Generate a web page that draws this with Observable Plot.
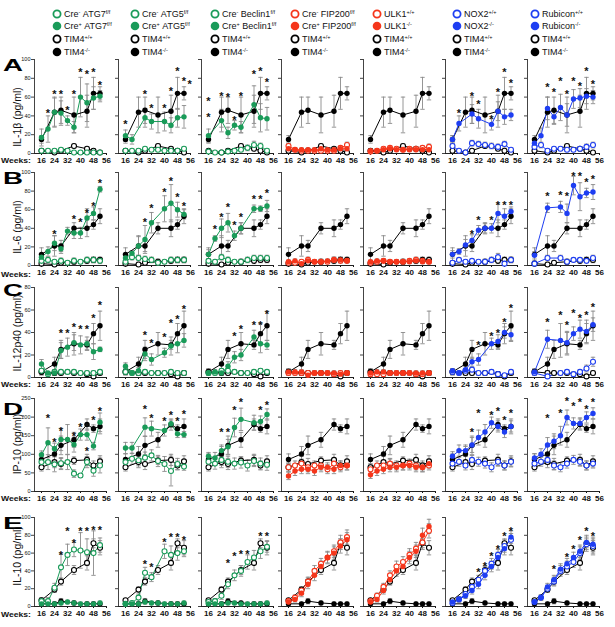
<!DOCTYPE html>
<html><head><meta charset="utf-8">
<script src="https://cdn.jsdelivr.net/npm/d3@7"></script>
<script src="https://cdn.jsdelivr.net/npm/@observablehq/plot@0.6"></script>
<style>
body{margin:0;background:#fff;font-family:"Liberation Sans",Arial,sans-serif;}
#fig{position:relative;width:615px;height:627px;overflow:hidden;background:#fff;}
</style></head><body><div id="fig"></div>
<script>
// ---------- categories ----------
const weeks = [16,20,24,28,32,36,40,44,48,52];
const tim4Weeks = [16,24,28,36,44,48,52];
const xTicks = [16,24,32,40,48,56];
const genes = ["ATG7","ATG5","Beclin1","FIP200","ULK1","NOX2","Rubicon"];
const creLine = [true,true,true,true,false,false,false];
const geneColors = ["#1a9b59","#1a9b59","#1a9b59","#f5361b","#f5361b","#1e3ef2","#1e3ef2"];
const rowLetters = ["A","B","C","D","E"];
const rowTitles = ["IL-1β (pg/ml)","IL-6 (pg/ml)","IL-12p40 (pg/ml)","IP-10 (pg/ml)","IL-10 (pg/ml)"];
const rowYMax = [100,100,80,250,100];
const rowYStep = [20,20,20,50,20];

// ---------- IL-1β ----------
const il1b_tim4wt = [3,1,3,8,5,3,1];
const il1b_tim4wt_sd = [1,1,2,2,2,2,1];
const il1b_tim4ko = [15,44,46,41,45,64,64];
const il1b_tim4ko_sd = [4,16,14,19,17,17,7];
const il1b_ko = [
 [17,26,44,43,35,28,60,54,59,61],
 [19,15,null,38,34,null,34,30,38,39],
 [19,null,35,22,30,28,null,52,38,37],
 [5,4,4,4,4,5,4,4,5,5],
 [3,3,4,5,4,4,4,4,4,4],
 [15,32,null,42,37,null,31,45,39,41],
 [11,19,48,39,49,41,58,59,61,60]];
const il1b_ko_sd = [
 [9,14,15,13,5,6,21,20,12,6],
 [6,5,null,10,8,null,10,8,10,12],
 [7,null,12,6,5,6,null,20,15,12],
 [3,2,2,2,2,2,2,2,2,2],
 [2,2,2,2,2,2,2,2,2,2],
 [4,8,null,10,10,null,6,10,8,6],
 [4,8,12,8,14,12,10,10,8,7]];
const il1b_ctrl = [
 [3,3,3,4,3,1,1,1,1,1],
 [3,3,3,5,4,4,3,3,3,5],
 [2,1,1,2,3,4,6,9,8,3],
 [8,4,3,3,3,3,3,3,6,9],
 [2,3,5,6,5,4,5,5,6,7],
 [8,3,1,11,10,9,8,7,10,4],
 [7,9,3,5,5,4,4,5,7,9]];
const il1b_ctrl_sd = [
 [2,2,2,2,2,1,1,1,1,1],
 [2,2,2,2,2,2,2,2,2,2],
 [1,1,1,2,2,2,3,4,3,2],
 [3,2,2,2,2,2,2,2,2,3],
 [1,2,2,2,2,2,2,2,2,3],
 [3,2,1,3,3,3,3,3,3,2],
 [3,3,2,2,2,2,2,2,3,3]];
const il1b_stars = [
 [[20,46],[24,66],[28,66],[32,49],[36,66],[40,89],[44,87],[48,89],[52,76]],
 [[16,34],[28,66],[32,51],[40,51],[44,69],[48,90],[52,80],[55.5,77]],
 [[16,59],[16,41],[24,64],[28,63],[32,38],[36,64],[44,87],[48,90],[52,79]],
 [],[],
 [[20,46],[28,64],[32,55],[40,39],[44,68],[48,89],[52,78]],
 [[24,73],[28,68],[32,80],[36,66],[40,80],[44,74],[48,90],[52,77]]];

// ---------- IL-6 ----------
const il6_tim4wt = [2,1,3,4,5,6,6];
const il6_tim4wt_sd = [2,1,2,3,3,3,3];
const il6_tim4ko = [12,21,21,40,40,44,53];
const il6_tim4ko_sd = [7,11,6,6,9,5,8];
const il6_ko = [
 [9,15,24,18,37,35,35,51,56,82],
 [8,13,21,28,46,null,61,67,60,55],
 [12,29,40,46,32,40,null,61,61,64],
 [4,5,2,5,4,4,5,6,6,5],
 [4,5,5,4,4,4,4,5,4,4],
 [12,15,22,27,38,40,40,56,53,58],
 [11,null,62,null,63,56,86,74,78,79]];
const il6_ko_sd = [
 [4,5,8,5,4,6,6,10,7,3],
 [4,3,10,15,11,null,14,20,8,5],
 [5,3,10,10,5,6,null,4,3,6],
 [2,2,1,2,2,2,2,3,3,2],
 [2,2,2,2,2,2,2,2,2,2],
 [4,3,6,6,5,5,5,10,8,5],
 [4,null,5,null,6,10,10,15,5,8]];
const il6_ctrl = [
 [5,6,4,5,3,5,4,6,6,5],
 [4,9,8,7,6,3,4,6,6,6],
 [5,4,9,6,4,4,6,8,8,8],
 [3,3,4,6,4,4,4,6,5,5],
 [3,4,5,4,4,4,5,6,5,4],
 [3,6,4,5,4,4,6,9,2,6],
 [2,null,8,null,8,4,6,6,5,8]];
const il6_ctrl_sd = [
 [3,3,2,3,2,3,2,3,3,3],
 [2,3,3,3,3,2,2,3,3,3],
 [2,2,3,3,2,2,3,3,3,3],
 [2,2,2,3,2,2,2,3,2,2],
 [2,2,2,2,2,2,2,3,2,2],
 [2,2,2,2,2,2,3,4,1,3],
 [1,null,3,null,3,2,2,2,2,3]];
const il6_stars = [
 [[24,37],[36,53],[40,50],[44,59],[48,67],[52,91]],
 [[28,49],[32,65],[40,82],[44,94],[48,76],[52,67]],
 [[20,42],[24,55],[28,66],[32,46],[36,55],[44,74],[48,74],[52,81]],
 [],[],
 [[28,37],[32,52],[40,52],[44,68],[48,68],[52,68]],
 [[24,77],[32,79],[36,77],[40,99],[44,99],[48,92],[52,96]]];

// ---------- IL-12p40 ----------
const il12_tim4wt = [5,4,4,4,3,1,4];
const il12_tim4wt_sd = [2,2,2,2,2,1,2];
const il12_tim4ko = [5,12,25,30,29,39,46];
const il12_tim4ko_sd = [3,6,8,10,4,9,13];
const il12_ko = [
 [12,4,4,24,27,31,29,30,23,25],
 [10,4,6,21,16,null,22,28,30,33],
 [4,5,4,10,18,20,null,36,30,29],
 [5,5,5,2,4,4,4,4,3,4],
 [4,5,5,4,4,4,4,4,4,4],
 [6,4,7,14,16,null,30,32,40,38],
 [5,null,34,null,33,31,39,43,41,47]];
const il12_ko_sd = [
 [4,1,2,7,8,7,8,6,7,2],
 [3,2,3,6,5,null,4,8,8,6],
 [2,2,2,4,5,5,null,6,8,4],
 [2,2,2,1,2,2,2,2,2,2],
 [2,2,2,2,2,2,2,2,2,2],
 [2,1,3,4,5,null,5,6,5,6],
 [2,null,8,null,15,10,6,8,10,6]];
const il12_ctrl = [
 [6,3,5,5,5,5,4,4,4,5],
 [5,4,4,5,4,4,4,5,4,4],
 [4,4,6,6,5,4,4,5,6,5],
 [4,4,4,4,4,4,4,3,4,4],
 [3,3,3,4,4,4,4,3,3,4],
 [5,4,6,7,4,4,5,3,2,5],
 [4,null,1,null,4,5,3,5,8,14]];
const il12_ctrl_sd = [
 [2,1,2,2,2,2,2,2,2,2],
 [2,2,2,2,2,2,2,2,2,2],
 [2,2,2,2,2,2,2,2,2,2],
 [2,2,2,2,2,2,2,2,2,2],
 [2,2,2,2,2,2,2,2,2,2],
 [2,2,2,2,2,2,2,2,1,2],
 [2,null,1,null,2,2,2,2,3,4]];
const il12_stars = [
 [[28,42],[32,42],[36,47],[40,45],[44,45],[48,55],[52,67]],
 [[28,40],[32,33],[40,38],[44,51],[48,54],[52,63]],
 [[32,39],[36,45],[44,49],[48,49],[52,59]],
 [],[],
 [[32,31],[40,39],[44,42],[48,52],[52,64]],
 [[24,52],[32,58],[36,49],[40,60],[44,55],[48,58],[52,65]]];

// ---------- IP-10 ----------
const ip10_tim4wt = [65,79,74,83,85,70,81];
const ip10_tim4wt_sd = [10,15,15,10,15,12,15];
const ip10_tim4ko = [86,101,124,139,180,169,175];
const ip10_tim4ko_sd = [15,20,25,20,15,10,20];
const ip10_ko = [
 [99,131,115,140,140,126,153,153,122,186],
 [117,117,null,173,169,null,164,182,155,153],
 [95,90,110,120,172,194,null,185,188,207],
 [42,55,60,60,55,65,65,60,70,70],
 [45,55,60,65,65,70,70,65,65,75],
 [95,110,110,125,145,160,185,175,160,175],
 [90,100,125,135,150,199,183,183,199,210]];
const ip10_ko_sd = [
 [10,40,15,30,40,20,15,15,10,25],
 [15,15,null,25,20,null,15,10,10,8],
 [10,15,15,20,25,30,null,20,15,15],
 [10,12,12,12,12,12,12,12,12,12],
 [10,12,12,12,12,12,12,12,12,12],
 [12,15,15,20,20,20,15,15,15,15],
 [12,15,20,20,25,20,15,15,15,15]];
const ip10_ctrl = [
 [79,79,73,76,79,48,43,79,56,70],
 [79,88,84,91,97,82,74,55,74,67],
 [80,75,85,80,75,78,70,82,75,72],
 [65,70,75,65,70,70,60,75,65,70],
 [60,70,70,75,70,70,75,70,65,70],
 [75,80,70,85,80,75,65,80,70,80],
 [75,80,85,70,65,75,85,80,70,75]];
const ip10_ctrl_sd = [
 [15,20,20,15,20,10,5,15,15,20],
 [10,15,15,15,15,15,20,40,15,10],
 [15,15,15,15,15,15,15,15,15,15],
 [12,12,12,12,12,12,12,12,12,12],
 [12,12,12,12,12,12,12,12,12,12],
 [12,12,12,12,12,12,12,12,12,12],
 [12,12,12,12,12,12,12,12,12,12]];
const ip10_stars = [
 [[20,204],[24,140],[28,169],[36,156],[40,180],[44,116],[44,180],[48,199],[52,223]],
 [[28,228],[32,204],[40,196],[44,212],[48,196],[52,215]],
 [[24,167],[28,167],[32,226],[36,247],[48,226],[52,239]],
 [],[],
 [[28,167],[32,218],[40,212],[44,223],[48,199],[52,218]],
 [[24,204],[32,218],[36,250],[40,237],[44,247],[48,228],[52,247]]];

// ---------- IL-10 ----------
const il10_tim4wt = [7,19,28,41,49,71,66];
const il10_tim4wt_sd = [2,3,4,5,8,5,8];
const il10_tim4ko = [3,3,6,4,3,3,3];
const il10_tim4ko_sd = [2,2,3,2,2,2,2];
const il10_ko = [
 [3,3,3,4,5,4,3,3,3,4],
 [3,3,3,5,4,4,3,3,3,4],
 [3,3,3,4,4,3,3,3,3,4],
 [5,8,15,25,35,45,55,60,68,75],
 [5,8,18,30,40,45,55,62,80,90],
 [5,8,12,18,25,35,45,55,65,78],
 [5,10,22,30,42,48,55,62,72,70]];
const il10_ko_sd = [
 [2,2,2,2,2,2,2,2,2,2],
 [2,2,2,2,2,2,2,2,2,2],
 [2,2,2,2,2,2,2,2,2,2],
 [2,3,4,5,6,6,6,7,8,8],
 [2,3,4,5,6,6,7,7,8,8],
 [2,3,3,4,5,5,6,6,7,7],
 [2,3,4,5,6,6,6,7,8,8]];
const il10_ctrl = [
 [6,6,21,44,58,64,63,61,60,69],
 [3,4,10,38,33,null,62,58,60,62],
 [5,6,12,25,35,40,50,55,62,67],
 [6,10,18,28,40,48,55,62,72,78],
 [6,12,22,35,45,50,58,65,72,85],
 [4,8,14,22,30,40,48,58,68,75],
 [5,10,20,28,40,45,50,60,70,68]];
const il10_ctrl_sd = [
 [4,4,5,15,12,8,20,15,25,8],
 [2,2,4,6,5,null,8,10,8,6],
 [2,3,4,5,6,6,8,8,8,6],
 [2,3,4,5,6,6,7,7,8,8],
 [2,3,4,5,6,6,7,7,8,8],
 [2,3,3,4,5,5,6,6,7,7],
 [2,3,4,5,6,6,6,7,8,8]];
const il10_stars = [
 [[28,61],[32,88],[36,74],[40,88],[44,88],[48,89],[52,89]],
 [[28,51],[32,47],[40,75],[44,81],[48,81],[52,78]],
 [[28,52],[32,60],[36,62],[40,62],[48,82],[52,82]],
 [],[],
 [[32,42],[36,48],[40,60],[44,68],[48,82],[52,88]],
 [[28,45],[36,58],[40,68],[44,78],[48,88],[52,82]]];

// ---------- assemble ----------
const rowsData = [
 {wt:il1b_tim4wt, wtsd:il1b_tim4wt_sd, ko:il1b_tim4ko, kosd:il1b_tim4ko_sd, gko:il1b_ko, gkosd:il1b_ko_sd, gc:il1b_ctrl, gcsd:il1b_ctrl_sd, stars:il1b_stars},
 {wt:il6_tim4wt, wtsd:il6_tim4wt_sd, ko:il6_tim4ko, kosd:il6_tim4ko_sd, gko:il6_ko, gkosd:il6_ko_sd, gc:il6_ctrl, gcsd:il6_ctrl_sd, stars:il6_stars},
 {wt:il12_tim4wt, wtsd:il12_tim4wt_sd, ko:il12_tim4ko, kosd:il12_tim4ko_sd, gko:il12_ko, gkosd:il12_ko_sd, gc:il12_ctrl, gcsd:il12_ctrl_sd, stars:il12_stars},
 {wt:ip10_tim4wt, wtsd:ip10_tim4wt_sd, ko:ip10_tim4ko, kosd:ip10_tim4ko_sd, gko:ip10_ko, gkosd:ip10_ko_sd, gc:ip10_ctrl, gcsd:ip10_ctrl_sd, stars:ip10_stars},
 {wt:il10_tim4wt, wtsd:il10_tim4wt_sd, ko:il10_tim4ko, kosd:il10_tim4ko_sd, gko:il10_ko, gkosd:il10_ko_sd, gc:il10_ctrl, gcsd:il10_ctrl_sd, stars:il10_stars}
];

// layout (pixels)
const colAxisX = [34,118,201,281,363,445,527];
const rowTop = [59,172,287,398,517];
const rowBottom = [153,265,377,491,606];
const ML = 20, MR = 8, MT = 14, MB = 16, PW = 72;
const pxPerWeek = 1.625;
const xLow = 56 - PW / pxPerWeek;
const FONT = "Liberation Sans, Arial, sans-serif";
const ERR = "#8a8a8a";

const fig = document.getElementById("fig");
const capSymbol = {draw(ctx, size){ const r = Math.sqrt(size/Math.PI); ctx.moveTo(-r,0); ctx.lineTo(r,0); }};

function rowsOf(xs, vals, sds){
  return xs.map((w,i)=>({w, v: vals[i], sd: sds[i]})).filter(d=>d.v!=null);
}
function errMarks(data){
  return [
    Plot.ruleX(data, {x:"w", y1:d=>Math.max(0,d.v-d.sd), y2:d=>d.v+d.sd, stroke:ERR, strokeWidth:0.9}),
    Plot.dot(data, {x:"w", y:d=>d.v+d.sd, symbol:capSymbol, r:2.2, stroke:ERR, fill:"none", strokeWidth:0.9}),
    Plot.dot(data.filter(d=>d.v-d.sd>0), {x:"w", y:d=>d.v-d.sd, symbol:capSymbol, r:2.2, stroke:ERR, fill:"none", strokeWidth:0.9})
  ];
}

for (let r = 0; r < 5; r++) {
  const R = rowsData[r];
  const wt = rowsOf(tim4Weeks, R.wt, R.wtsd);
  const ko = rowsOf(tim4Weeks, R.ko, R.kosd);
  for (let c = 0; c < 7; c++) {
    const col = geneColors[c];
    const gc = rowsOf(weeks, R.gc[c], R.gcsd[c]);
    const gko = rowsOf(weeks, R.gko[c], R.gkosd[c]);
    const plotH = rowBottom[r] - rowTop[r];
    const chart = Plot.plot({
      width: ML + PW + MR, height: MT + plotH + MB,
      marginLeft: ML, marginRight: MR, marginTop: MT, marginBottom: MB,
      style: {background:"transparent", overflow:"visible", fontFamily: FONT, color:"#111"},
      x: {domain:[xLow, 56]},
      y: {domain:[0, rowYMax[r]]},
      marks: [
        Plot.axisY({ticks: d3.range(0, rowYMax[r] + 1, rowYStep[r]), tickSize: 3, tickPadding: 1, fontSize: 5.5, tickFormat: c === 0 ? (d => d) : (() => ""), label: null, stroke:"#444"}),
        Plot.axisX({ticks: xTicks, tickSize: 2, tickPadding: 1.5, fontSize: 8, fontWeight: "bold", label: null}),
        Plot.frame({anchor:"left", stroke:"#444"}),
        Plot.frame({anchor:"bottom", stroke:"#222"}),
        ...errMarks(wt), ...errMarks(ko), ...errMarks(gc), ...errMarks(gko),
        Plot.line(wt, {x:"w", y:"v", stroke:"#000", strokeWidth:1}),
        Plot.line(ko, {x:"w", y:"v", stroke:"#000", strokeWidth:1}),
        Plot.line(gc, {x:"w", y:"v", stroke:col, strokeWidth:1}),
        Plot.line(gko, {x:"w", y:"v", stroke:col, strokeWidth:1}),
        Plot.dot(wt, {x:"w", y:"v", r:2.5, fill:"#fff", stroke:"#000", strokeWidth:1.1}),
        Plot.dot(ko, {x:"w", y:"v", r:2.7, fill:"#000"}),
        Plot.dot(gc, {x:"w", y:"v", r:2.5, fill:"#fff", stroke:col, strokeWidth:1.1}),
        Plot.dot(gko, {x:"w", y:"v", r:2.7, fill:col}),
        Plot.text(R.stars[c], {x:d=>d[0], y:d=>d[1], text:()=>"*", fontSize:11, fontWeight:"bold", dy:3, fill:"#111"})
      ]
    });
    chart.style.position = "absolute";
    chart.style.left = (colAxisX[c] - ML) + "px";
    chart.style.top = (rowTop[r] - MT) + "px";
    chart.style.maxWidth = "none";
    fig.appendChild(chart);
  }
}

// ---------- overlay: legend, letters, titles ----------
const ov = d3.select(fig).append("svg")
  .attr("width", 615).attr("height", 627)
  .style("position","absolute").style("left","0px").style("top","0px")
  .style("font-family", FONT);

const legendX = [57,135,215,295,377,457,535];
const legendY = [14,26,39,52];
function legendParts(c, i){
  const g = genes[c];
  if (i === 2) return [["TIM4",false],["+/+",true]];
  if (i === 3) return [["TIM4",false],["-/-",true]];
  if (creLine[c]) return [["Cre",false],[i===0?"-":"+",true],[" "+g,false],["f/f",true]];
  return [[g,false],[i===0?"+/+":"-/-",true]];
}
for (let c = 0; c < 7; c++) {
  for (let i = 0; i < 4; i++) {
    const color = i < 2 ? geneColors[c] : "#000";
    const open = i % 2 === 0;
    ov.append("circle").attr("cx", legendX[c]).attr("cy", legendY[i]).attr("r", open ? 3.6 : 4.3)
      .attr("fill", open ? "#fff" : color).attr("stroke", color).attr("stroke-width", open ? 1.8 : 0);
    const t = ov.append("text").attr("x", legendX[c] + 7).attr("y", legendY[i] + 3.3).attr("font-size", 9).attr("fill","#111");
    let raised = false;
    for (const [s, sup] of legendParts(c, i)) {
      if (sup) { t.append("tspan").attr("font-size", 5.5).attr("dy", raised ? 0 : -3.5).text(s); raised = true; }
      else { t.append("tspan").attr("font-size", 9).attr("dy", raised ? 3.5 : 0).text(s.replace(/ /g, "\u00a0")); raised = false; }
    }
  }
}

const letterBase = [71,184,296,415,529];
const titleCenter = [117,227,333,444,556];
const weeksRow = [159,273,383,497,613];
for (let r = 0; r < 5; r++) {
  ov.append("text").attr("x", 3).attr("y", letterBase[r]).attr("font-size", 17).attr("font-weight", 900)
    .attr("textLength", 20).attr("lengthAdjust","spacingAndGlyphs").attr("fill","#000").text(rowLetters[r]);
  ov.append("text").attr("transform", `translate(17,${titleCenter[r]}) rotate(-90)`)
    .attr("text-anchor","middle").attr("dominant-baseline","central").attr("font-size", 10.5).attr("fill","#111").text(rowTitles[r]);
  ov.append("text").attr("x", 1).attr("y", weeksRow[r] + 3.5).attr("font-size", 8).attr("font-weight", "bold")
    .attr("textLength", 30).attr("lengthAdjust","spacingAndGlyphs").attr("fill","#111").text("Weeks:");
}
</script>
</body></html>
